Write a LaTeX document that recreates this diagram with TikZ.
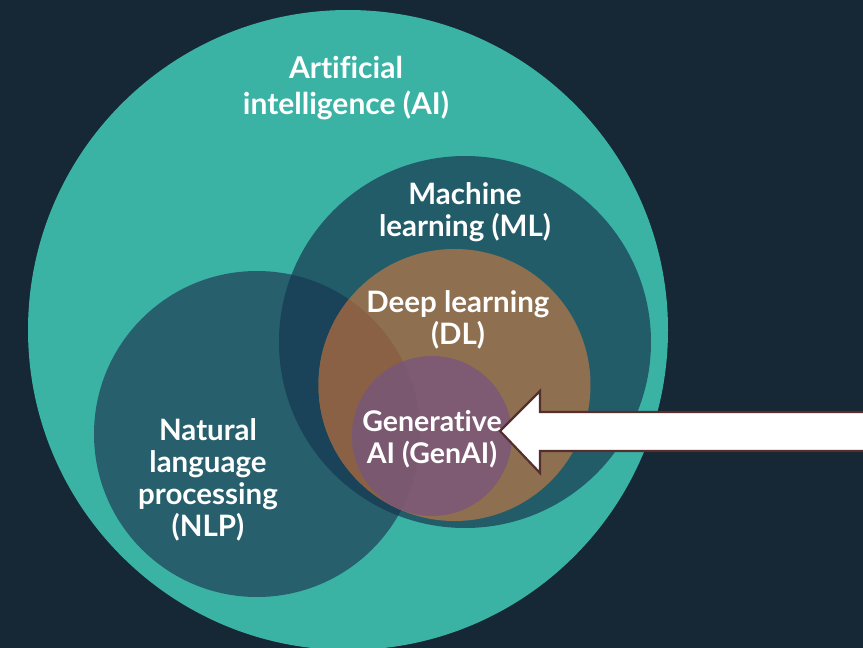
\documentclass[tikz,border=0pt]{standalone}
\usepackage{fontspec}
\setmainfont[Ligatures=NoCommon]{Lato}
\definecolor{bgc}{HTML}{162736}
\definecolor{aic}{HTML}{3AB3A5}
\definecolor{mlc}{HTML}{225C69}
\definecolor{nlpc}{HTML}{27606C}
\definecolor{mixc}{HTML}{1A4259}
\definecolor{dlc}{HTML}{8E7050}
\definecolor{dlnc}{HTML}{8A6145}
\definecolor{genc}{HTML}{7E5B72}
\definecolor{gennc}{HTML}{7A5870}
\definecolor{edgec}{HTML}{552E2E}
\tikzset{
  x=1pt,y=-1pt,
  lab/.style={text=white,align=center,font=\fontsize{29.5}{32}\selectfont\bfseries,inner sep=0pt},
  arrowshape/.style={fill=white,draw=edgec,line width=2.2pt,line join=miter}
}
\newcommand{\circAI}{(348,330) circle[radius=320pt]}
\newcommand{\circML}{(465,342) circle[radius=186pt]}
\newcommand{\circNLP}{(257,434) circle[radius=163pt]}
\newcommand{\circDL}{(454.5,385) circle[radius=136pt]}
\newcommand{\circGen}{(432,436) circle[radius=80pt]}
\begin{document}
\begin{tikzpicture}
\useasboundingbox (0,0) rectangle (863,648);
\clip (0,0) rectangle (863,648);
\fill[bgc] (0,0) rectangle (863,648);
\fill[aic] \circAI;
\fill[nlpc] \circNLP;
\fill[mlc] \circML;
\begin{scope}\clip \circNLP; \fill[mixc] \circML; \end{scope}
\fill[dlc] \circDL;
\begin{scope}\clip \circNLP; \fill[dlnc] \circDL; \end{scope}
\fill[genc] \circGen;
\begin{scope}\clip \circNLP; \fill[gennc] \circGen; \end{scope}
\node[lab,font=\fontsize{30}{36}\selectfont\bfseries] (ai) at (346,88.5) {Artificial\\intelligence (AI)};
\node[lab] (ml) at (465,212) {Machine\\learning (ML)};
\node[lab] (dl) at (458,320) {Deep learning\\(DL)};
\node[lab,font=\fontsize{28.5}{32}\selectfont\bfseries] (gen) at (432,439) {Generative\\AI (GenAI)};
\node[lab] (nlp) at (208,480) {Natural\\language\\processing\\(NLP)};
\draw[arrowshape] (870,412) -- (540,412) -- (540,391) -- (500,431) -- (540,473) -- (540,451) -- (870,451);
\end{tikzpicture}
\end{document}
